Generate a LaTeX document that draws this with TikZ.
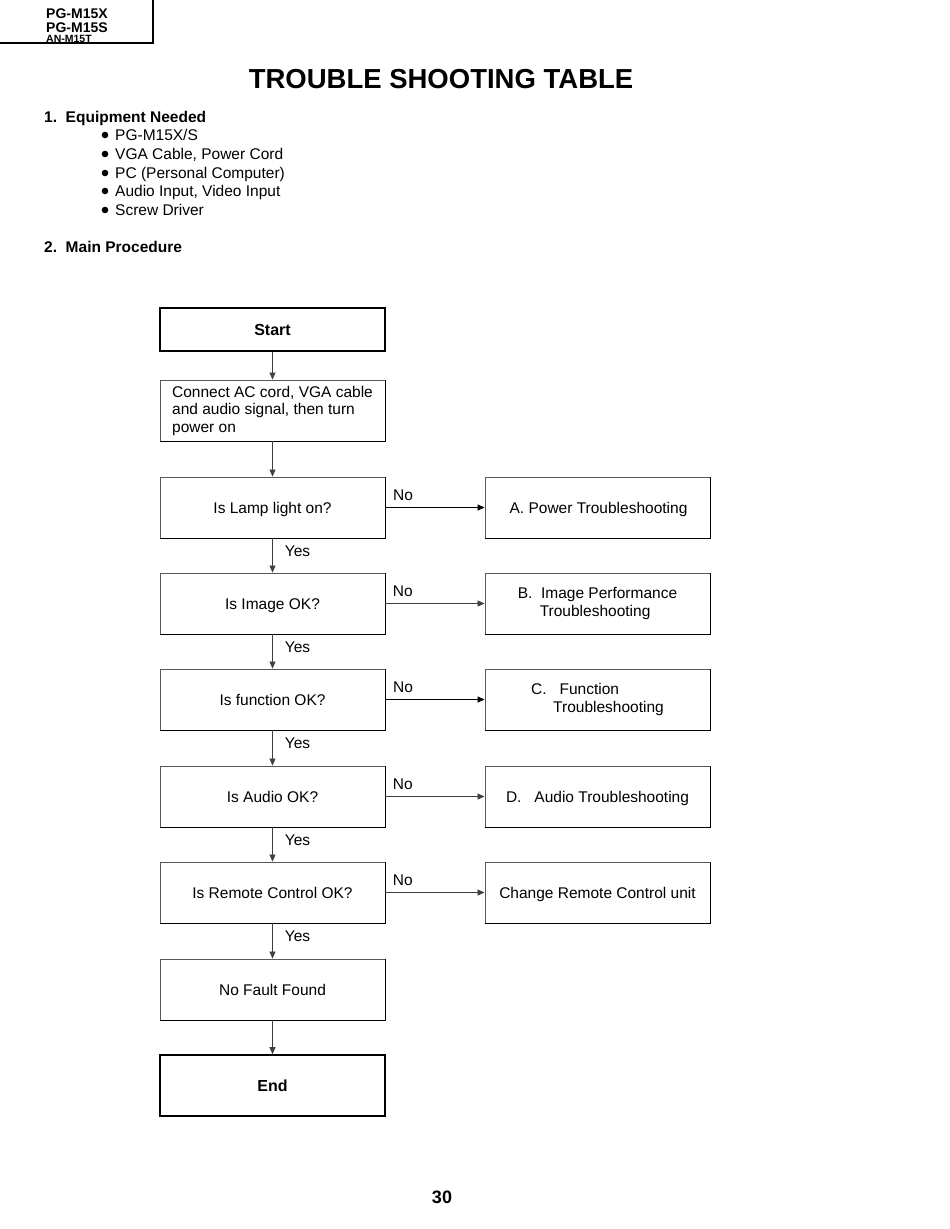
\documentclass[tikz,border=0pt]{standalone}
\usepackage{fontspec}
\setmainfont{Liberation Sans}
\usetikzlibrary{arrows.meta}
\begin{document}
\begin{tikzpicture}[x=1pt,y=-1pt,
 mbox/.style={draw=black!65, line width=0.9pt, minimum width=225pt, minimum height=61pt, inner sep=0pt, font=\fontsize{15.5}{17.5}\selectfont, align=left},
 box/.style={mbox, text height=12pt, text depth=0pt},
 bold box/.style={box, draw=black, line width=1.6pt, font=\fontsize{16}{18}\selectfont\bfseries},
 arr/.style={draw=black!75, line width=0.8pt, -{Triangle[length=7pt,width=6pt]}},
 thick arr/.style={arr, draw=black, line width=1.3pt},
 lbl/.style={font=\fontsize{15.5}{17.5}\selectfont, inner sep=0pt},
 txt/.style={inner sep=0pt, anchor=base west, font=\fontsize{15.5}{18.75}\selectfont}]
\useasboundingbox (0,0) rectangle (950,1229);

% header
\draw[line width=1.4pt] (0,43) -- (153,43) -- (153,0);
\node[inner sep=0pt, anchor=base west, font=\fontsize{14}{14}\selectfont\bfseries] (h1) at (46,18) {PG-M15X};
\node[inner sep=0pt, anchor=base west, font=\fontsize{14}{14}\selectfont\bfseries] (h2) at (46,32) {PG-M15S};
\node[inner sep=0pt, anchor=base west, font=\fontsize{10.5}{10.5}\selectfont\bfseries] (h3) at (46,42) {AN-M15T};

% title
\node[inner sep=0pt, font=\fontsize{27.5}{27.5}\selectfont\bfseries] (title) at (441,79) {TROUBLE SHOOTING TABLE};

% equipment
\node[txt, font=\fontsize{15.5}{16}\selectfont\bfseries] (s1) at (44,122.5) {1.\ \ Equipment Needed};
\foreach \y/\t [count=\i] in {135/PG-M15X\slash S, 154/{VGA Cable, Power Cord}, 173/PC (Personal Computer), 191/{Audio Input, Video Input}, 210/Screw Driver}{
  \fill (105,\y) circle (3.3pt);
  \node[txt] (e\i) at (115,\y+5.5) {\t};
}
\node[txt, font=\fontsize{15.5}{16}\selectfont\bfseries] (s2) at (44,252.5) {2.\ \ Main Procedure};

% left column
\node[bold box, minimum height=43pt, line width=2.2pt] (start) at (272.5,329.5) {Start};
\node[mbox] (conn) at (272.5,410.5) {Connect AC cord, VGA cable\\and audio signal, then turn\\power on};
\node[box] (lamp) at (272.5,507.5) {Is Lamp light on?};
\node[box] (image) at (272.5,603.5) {Is Image OK?};
\node[box] (func) at (272.5,699.5) {Is function OK?};
\node[box] (audio) at (272.5,796.5) {Is Audio OK?};
\node[box] (remote) at (272.5,892.5) {Is Remote Control OK?};
\node[box] (nofault) at (272.5,989.5) {No Fault Found};
\node[bold box] (end) at (272.5,1085.5) {End};

% right column
\node[box] (ra) at (597.5,507.5) {\hspace*{2pt}A. Power Troubleshooting};
\node[mbox] (rb) at (597.5,603.5) {B.\ \ Image Performance\\\hspace*{22pt}Troubleshooting};
\node[mbox] (rc) at (597.5,699.5) {C.\ \ \ Function\\\hspace*{22pt}Troubleshooting};
\node[box] (rd) at (597.5,796.5) {D.\ \ \ Audio Troubleshooting};
\node[box] (re) at (597.5,892.5) {Change Remote Control unit};

% darker bottom/right edges
\foreach \n in {conn,lamp,image,func,audio,remote,nofault,ra,rb,rc,rd,re}{
  \draw[black, line width=1.1pt] (\n.south west) -- (\n.south east) -- (\n.north east);
}

% vertical connectors
\draw[arr] (start) -- (conn);
\draw[arr] (conn) -- (lamp);
\draw[arr] (lamp) -- node[lbl, pos=0.37, anchor=west, xshift=12pt] (y1) {Yes} (image);
\draw[arr] (image) -- node[lbl, pos=0.37, anchor=west, xshift=12pt] (y2) {Yes} (func);
\draw[arr] (func) -- node[lbl, pos=0.37, anchor=west, xshift=12pt] (y3) {Yes} (audio);
\draw[arr] (audio) -- node[lbl, pos=0.37, anchor=west, xshift=12pt] (y4) {Yes} (remote);
\draw[arr] (remote) -- node[lbl, pos=0.37, anchor=west, xshift=12pt] (y5) {Yes} (nofault);
\draw[arr] (nofault) -- (end);

% horizontal connectors
\draw[thick arr] (lamp) -- node[lbl, pos=0, anchor=south west, xshift=7pt, yshift=6pt] (n1) {No} (ra);
\draw[arr] (image) -- node[lbl, pos=0, anchor=south west, xshift=7pt, yshift=6pt] (n2) {No} (rb);
\draw[thick arr] (func) -- node[lbl, pos=0, anchor=south west, xshift=7pt, yshift=6pt] (n3) {No} (rc);
\draw[arr] (audio) -- node[lbl, pos=0, anchor=south west, xshift=7pt, yshift=6pt] (n4) {No} (rd);
\draw[arr] (remote) -- node[lbl, pos=0, anchor=south west, xshift=7pt, yshift=6pt] (n5) {No} (re);

% page number
\node[inner sep=0pt, font=\fontsize{18}{18}\selectfont\bfseries] (page) at (442,1197) {30};
\end{tikzpicture}
\end{document}
